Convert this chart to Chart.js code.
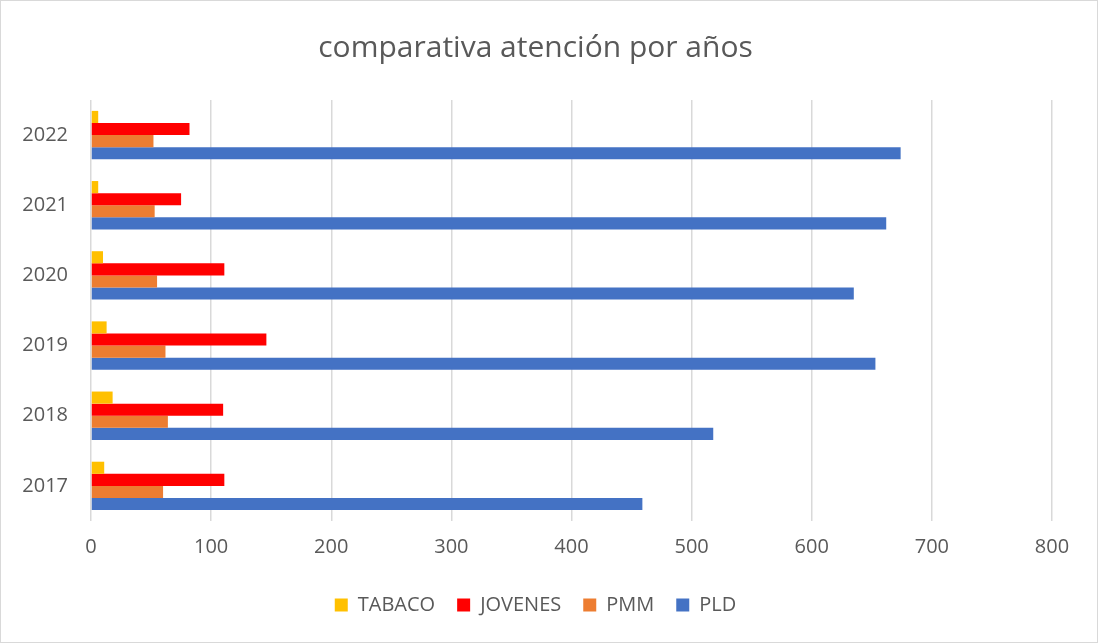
<!DOCTYPE html>
<html>
<head>
<meta charset="utf-8">
<script src="https://cdn.jsdelivr.net/npm/chart.js@4/dist/chart.umd.min.js"></script>
<style>
  html, body { margin: 0; padding: 0; background: #fff; }
  #wrap { width: 1098px; height: 643px; box-sizing: border-box; border: 1px solid #d9d9d9; }
</style>
</head>
<body>
<div id="wrap"><canvas id="grafico"></canvas></div>
<script>
// datos
const anios = ['2017', '2018', '2019', '2020', '2021', '2022'];
const tabaco = [11, 18, 13, 10, 6, 6];
const jovenes = [111, 110, 146, 111, 75, 82];
const pmm = [60, 64, 62, 55, 53, 52];
const pld = [459, 518, 653, 635, 662, 674];
const ticksX = [0, 100, 200, 300, 400, 500, 600, 700, 800];

const fuente = "'Open Sans', 'Liberation Sans', sans-serif";
const gris = '#595959';

const ctx = document.getElementById('grafico').getContext('2d');

new Chart(ctx, {
    type: 'bar',
    data: {
        labels: anios,
        datasets: [{
            label: 'TABACO',
            backgroundColor: '#FFC000',
            data: tabaco
        }, {
            label: 'JOVENES',
            backgroundColor: '#FF0000',
            data: jovenes
        }, {
            label: 'PMM',
            backgroundColor: '#ED7D31',
            data: pmm
        }, {
            label: 'PLD',
            backgroundColor: '#4472C4',
            data: pld
        }]
    },
    options: {
        indexAxis: 'y',
        responsive: true,
        maintainAspectRatio: false,
        animation: false,
        categoryPercentage: 0.69,
        barPercentage: 1,
        layout: { padding: { left: 18, right: 45, top: 0, bottom: 17 } },
        scales: {
            x: {
                min: ticksX[0],
                max: ticksX[ticksX.length - 1],
                afterBuildTicks: axis => { axis.ticks = ticksX.map(v => ({ value: v })); },
                grid: { color: '#d9d9d9', lineWidth: 1.5, drawTicks: false },
                border: { display: false },
                ticks: { color: gris, font: { family: fuente, size: 20 }, padding: 14 }
            },
            y: {
                reverse: true,
                afterFit: axis => { axis.width = 72; },
                grid: { display: false, drawTicks: false },
                border: { display: false },
                ticks: { color: gris, font: { family: fuente, size: 20 }, padding: 23 }
            }
        },
        plugins: {
            title: {
                display: true,
                text: 'comparativa atención por años',
                color: gris,
                font: { family: fuente, size: 30, weight: 'normal' },
                padding: { top: 29, bottom: 34 }
            },
            legend: {
                position: 'bottom',
                labels: {
                    color: gris,
                    font: { family: fuente, size: 20 },
                    boxWidth: 13,
                    boxHeight: 13,
                    padding: 22
                }
            },
            tooltip: { enabled: false }
        }
    }
});
</script>
</body>
</html>
